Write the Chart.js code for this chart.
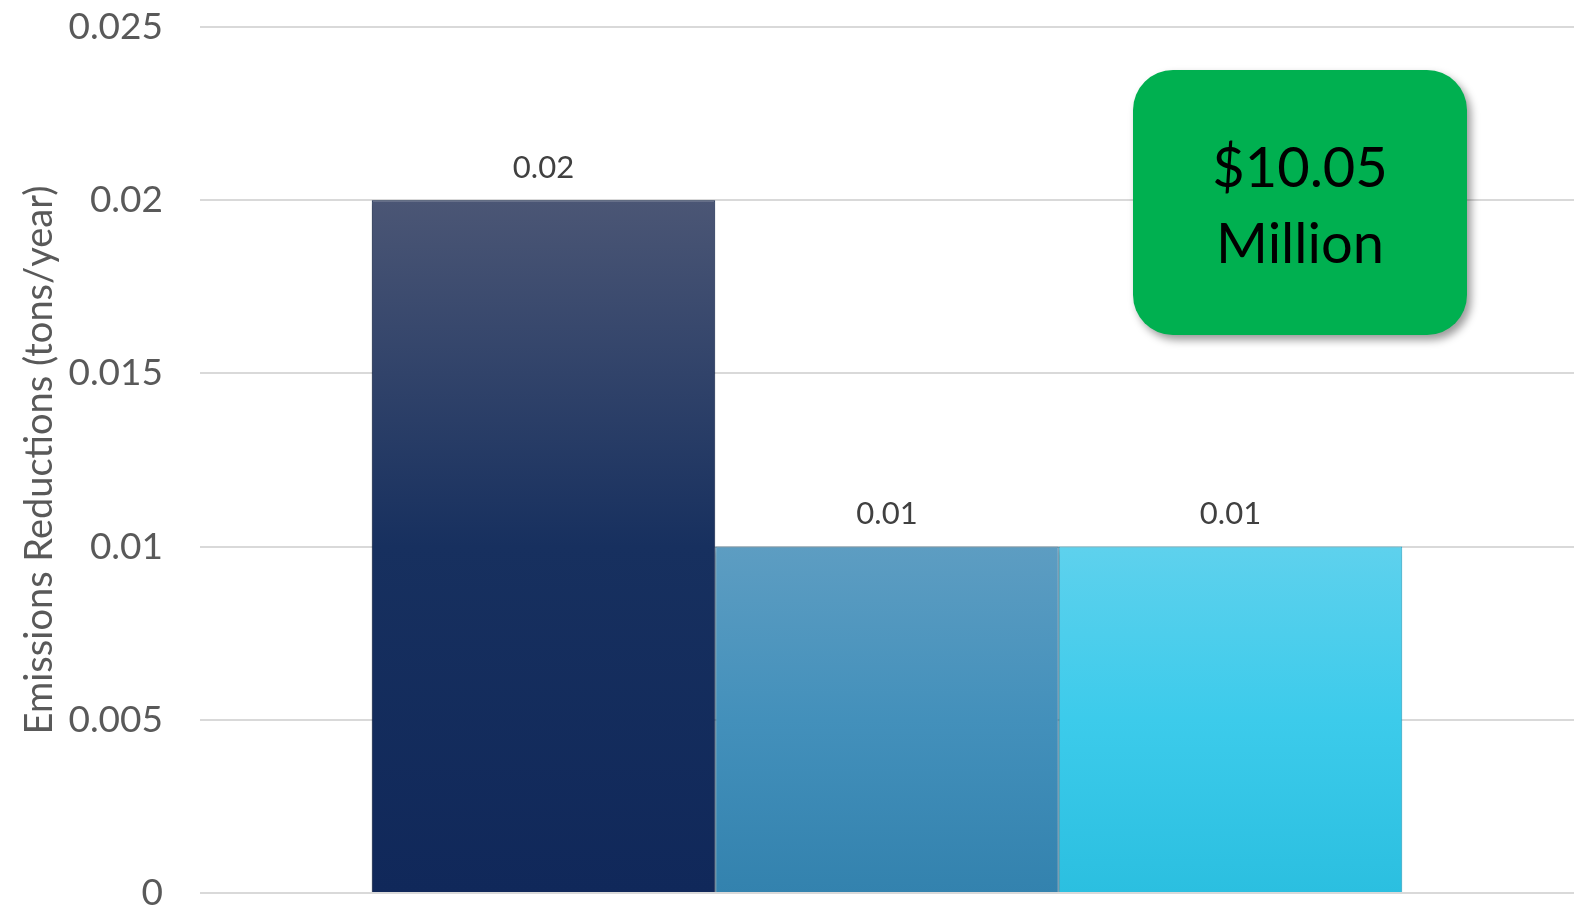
<!DOCTYPE html>
<html>
<head>
<meta charset="utf-8">
<script src="https://cdn.jsdelivr.net/npm/chart.js@4"></script>
<style>
  html, body { margin: 0; padding: 0; background: #fff; overflow: hidden; }
</style>
</head>
<body>
<canvas id="myChart" width="1582" height="907"></canvas>
<script>
const categories = [""];
const seriesNames = ["Series 1", "Series 2", "Series 3"];
const seriesValues = [[0.02], [0.01], [0.01]];
const yTicks = ["0", "0.005", "0.01", "0.015", "0.02", "0.025"];
const yTitle = "Emissions Reductions (tons/year)";
const calloutLines = ["$10.05", "Million"];

// top / mid / bottom colours of each bar's gradient
const barGradients = [
  ["#4b5675", "#17305f", "#10285a"],
  ["#5d9dc2", "#4390bb", "#3382ae"],
  ["#5ed1ed", "#3ccbeb", "#2bbfe0"]
];
const borderColors = ["#0c1f48", "#2d6688", "#2aa8c8"];
const FONT = "Lato, 'Open Sans', sans-serif";

function barFill(ctx) {
  const chart = ctx.chart;
  const area = chart.chartArea;
  if (!area) return barGradients[ctx.datasetIndex][0];
  const y = chart.scales.y;
  const top = y.getPixelForValue(ctx.raw);
  const bottom = y.getPixelForValue(0);
  const g = chart.ctx.createLinearGradient(0, top, 0, bottom);
  const c = barGradients[ctx.datasetIndex];
  g.addColorStop(0, c[0]);
  g.addColorStop(0.5, c[1]);
  g.addColorStop(1, c[2]);
  return g;
}

const barShadow = {
  id: "barShadow",
  beforeDatasetsDraw(chart) {
    const c = chart.ctx;
    c.save();
    c.shadowColor = "rgba(0,0,0,0.22)";
    c.shadowBlur = 6;
    c.shadowOffsetX = -2;
    c.shadowOffsetY = 3;
  },
  afterDatasetsDraw(chart) {
    chart.ctx.restore();
  }
};

const valueLabels = {
  id: "valueLabels",
  afterDatasetsDraw(chart) {
    const c = chart.ctx;
    c.save();
    c.font = "31px " + FONT;
    c.fillStyle = "#404040";
    c.textAlign = "center";
    c.textBaseline = "bottom";
    chart.data.datasets.forEach((ds, i) => {
      const meta = chart.getDatasetMeta(i);
      meta.data.forEach((bar, j) => {
        c.fillText(String(ds.data[j]), bar.x, bar.y - 17);
      });
    });
    c.restore();
  }
};

const callout = {
  id: "callout",
  afterDraw(chart) {
    const c = chart.ctx;
    const x = 1133, y = 70, w = 334, h = 265, r = 40;
    c.save();
    c.shadowColor = "rgba(0,0,0,0.4)";
    c.shadowBlur = 8;
    c.shadowOffsetX = 4;
    c.shadowOffsetY = 5;
    c.fillStyle = "#00b050";
    c.beginPath();
    c.roundRect(x, y, w, h, r);
    c.fill();
    c.restore();
    c.save();
    c.fillStyle = "#000";
    c.font = "56px " + FONT;
    c.textAlign = "center";
    c.textBaseline = "alphabetic";
    c.fillText(calloutLines[0], x + w / 2, 187);
    c.fillText(calloutLines[1], x + w / 2, 263);
    c.restore();
  }
};

new Chart("myChart", {
  type: "bar",
  data: {
    labels: categories,
    datasets: seriesNames.map((name, i) => ({
      label: name,
      data: seriesValues[i],
      backgroundColor: barFill,
      borderColor: borderColors[i],
      borderWidth: 1,
      borderSkipped: "bottom"
    }))
  },
  options: {
    responsive: false,
    animation: false,
    events: [],
    layout: { padding: { top: 27, bottom: 14, left: 0, right: 8 } },
    datasets: {
      bar: { categoryPercentage: 0.75, barPercentage: 1.0 }
    },
    plugins: {
      legend: { display: false },
      tooltip: { enabled: false }
    },
    scales: {
      x: { display: false },
      y: {
        min: 0,
        max: 0.025,
        afterFit(scale) {
          scale.width = 200;
          scale.paddingTop = 0;
          scale.paddingBottom = 0;
        },
        afterBuildTicks(scale) {
          scale.ticks = yTicks.map(t => ({ value: parseFloat(t) }));
        },
        border: { display: false },
        grid: { color: "#d9d9d9", lineWidth: 2, drawTicks: false },
        ticks: {
          padding: 37,
          color: "#595959",
          font: { family: FONT, size: 37 },
          callback: (v) => yTicks.find(t => parseFloat(t) === v) ?? ""
        },
        title: {
          display: true,
          text: yTitle,
          color: "#595959",
          font: { family: FONT, size: 38 },
          padding: { top: 17, bottom: 0 }
        }
      }
    }
  },
  plugins: [barShadow, valueLabels, callout]
});
</script>
</body>
</html>
